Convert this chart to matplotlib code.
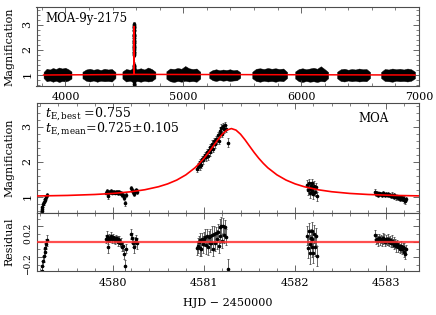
import numpy as np
import matplotlib.pyplot as plt
from matplotlib.ticker import MultipleLocator, FuncFormatter

plt.rcParams['font.family'] = ['DejaVu Serif']
plt.rcParams['mathtext.fontset'] = 'dejavuserif'
plt.rcParams['font.size'] = 8

# red model curve
model_t = [4579.16, 4579.5, 4579.8, 4580.0, 4580.2, 4580.35, 4580.5, 4580.6, 4580.7, 4580.8,
           4580.9, 4580.95, 4581.0, 4581.05, 4581.1, 4581.15, 4581.2, 4581.25, 4581.3, 4581.35,
           4581.4, 4581.45, 4581.5, 4581.55, 4581.6, 4581.65, 4581.7, 4581.8, 4581.9, 4582.0,
           4582.1, 4582.25, 4582.4, 4582.6, 4582.8, 4583.1, 4583.36]
model_A = [1.022, 1.038, 1.065, 1.095, 1.144, 1.201, 1.287, 1.368, 1.477, 1.626,
           1.828, 1.956, 2.102, 2.266, 2.445, 2.626, 2.789, 2.906, 2.949, 2.906,
           2.789, 2.626, 2.445, 2.266, 2.102, 1.956, 1.828, 1.626, 1.477, 1.368,
           1.287, 1.201, 1.144, 1.095, 1.065, 1.038, 1.025]

# MOA points near the event (HJD-2450000, magnification, error, residual)
obs_t = [4579.215, 4579.22, 4579.225, 4579.235, 4579.24, 4579.25, 4579.255, 4579.265, 4579.27,
         4579.92, 4579.93, 4579.94, 4579.95, 4579.96, 4579.97, 4579.98, 4579.99, 4580.00, 4580.01,
         4580.02, 4580.03, 4580.04, 4580.05, 4580.06, 4580.07, 4580.08, 4580.09, 4580.10, 4580.11,
         4580.12, 4580.13, 4580.14,
         4580.20, 4580.21, 4580.22, 4580.23, 4580.24, 4580.25, 4580.26,
         4580.92, 4580.93, 4580.94, 4580.95, 4580.96, 4580.97, 4580.98, 4580.99, 4581.00, 4581.01,
         4581.02, 4581.03, 4581.04, 4581.05, 4581.06, 4581.07, 4581.08, 4581.09, 4581.10, 4581.11,
         4581.12, 4581.13, 4581.14, 4581.15, 4581.16, 4581.17, 4581.18, 4581.19, 4581.20, 4581.21,
         4581.22, 4581.23, 4581.24, 4581.26,
         4582.13, 4582.14, 4582.15, 4582.16, 4582.165, 4582.17, 4582.18, 4582.185, 4582.19, 4582.20,
         4582.21, 4582.22, 4582.23, 4582.24,
         4582.88, 4582.89, 4582.90, 4582.91, 4582.92, 4582.93, 4582.94, 4582.95, 4582.96, 4582.97,
         4582.98, 4582.99, 4583.00, 4583.01, 4583.02, 4583.03, 4583.04, 4583.05, 4583.06, 4583.07,
         4583.08, 4583.09, 4583.10, 4583.11, 4583.12, 4583.13, 4583.14, 4583.15, 4583.16, 4583.17,
         4583.18, 4583.19, 4583.20, 4583.21, 4583.22]
obs_A = [0.58, 0.65, 0.72, 0.78, 0.85, 0.90, 0.95, 1.00, 1.05,
         1.12, 1.16, 1.10, 1.02, 1.14, 1.13, 1.17, 1.12, 1.15, 1.13,
         1.12, 1.15, 1.13, 1.14, 1.11, 1.13, 1.10, 1.11, 1.05, 1.06,
         0.96, 0.82, 1.04,
         1.24, 1.20, 1.14, 1.08, 1.16, 1.19, 1.15,
         1.80, 1.86, 1.93, 1.88, 2.00, 1.92, 2.08, 2.04, 2.14, 2.19,
         2.13, 2.27, 2.16, 2.33, 2.28, 2.42, 2.36, 2.50, 2.36, 2.58,
         2.50, 2.66, 2.62, 2.76, 2.60, 2.88, 2.80, 2.96, 2.80, 3.02,
         2.93, 3.05, 2.94, 2.55,
         1.35, 1.18, 1.40, 1.22, 1.10, 1.30, 1.17, 1.38, 1.26, 1.08,
         1.32, 1.15, 1.28, 1.02,
         1.15, 1.08, 1.10, 1.06, 1.10, 1.07, 1.09, 1.06, 1.10, 1.07,
         1.09, 1.05, 1.08, 1.06, 1.07, 1.04, 1.06, 1.03, 1.05, 1.02,
         1.04, 1.00, 1.02, 0.98, 1.01, 0.97, 0.99, 0.95, 0.98, 0.93,
         0.96, 0.90, 0.95, 0.87, 0.93]
obs_err = [0.07, 0.08, 0.06, 0.07, 0.08, 0.06, 0.07, 0.06, 0.07,
           0.05, 0.06, 0.05, 0.07, 0.05, 0.04, 0.05, 0.05, 0.04, 0.05,
           0.05, 0.04, 0.05, 0.05, 0.06, 0.05, 0.05, 0.06, 0.05, 0.06,
           0.06, 0.07, 0.06,
           0.07, 0.06, 0.06, 0.07, 0.06, 0.06, 0.07,
           0.09, 0.10, 0.08, 0.11, 0.09, 0.10, 0.08, 0.11, 0.09, 0.10,
           0.12, 0.09, 0.10, 0.08, 0.11, 0.09, 0.10, 0.12, 0.09, 0.11,
           0.10, 0.08, 0.12, 0.10, 0.09, 0.11, 0.10, 0.12, 0.09, 0.10,
           0.11, 0.09, 0.10, 0.14,
           0.12, 0.13, 0.11, 0.12, 0.14, 0.12, 0.13, 0.12, 0.11, 0.13,
           0.12, 0.12, 0.11, 0.13,
           0.06, 0.05, 0.06, 0.07, 0.05, 0.06, 0.05, 0.06, 0.07, 0.05,
           0.06, 0.05, 0.06, 0.05, 0.07, 0.06, 0.05, 0.06, 0.08, 0.05,
           0.06, 0.05, 0.06, 0.07, 0.05, 0.06, 0.05, 0.06, 0.07, 0.06,
           0.05, 0.07, 0.06, 0.07, 0.06]
obs_res = [-0.45, -0.38, -0.31, -0.25, -0.18, -0.13, -0.08, -0.03, 0.02,
           0.04, 0.08, 0.02, -0.07, 0.05, 0.04, 0.08, 0.03, 0.06, 0.03,
           0.02, 0.05, 0.03, 0.03, 0.00, 0.02, -0.01, -0.01, -0.07, -0.06,
           -0.16, -0.31, -0.09,
           0.10, 0.05, -0.01, -0.07, 0.00, 0.03, -0.02,
           -0.08, -0.05, 0.00, -0.08, 0.02, -0.09, 0.04, -0.03, 0.04, 0.06,
           -0.04, 0.07, -0.07, 0.06, -0.02, 0.08, -0.01, 0.09, -0.09, 0.10,
           -0.02, 0.11, 0.03, 0.13, -0.06, 0.19, 0.08, 0.20, 0.01, 0.21,
           0.09, 0.19, 0.06, -0.36,
           0.08, -0.08, 0.14, -0.03, -0.15, 0.05, -0.07, 0.14, 0.03, -0.15,
           0.10, -0.07, 0.07, -0.19,
           0.09, 0.02, 0.04, 0.01, 0.05, 0.02, 0.04, 0.01, 0.05, 0.02,
           0.04, 0.00, 0.03, 0.01, 0.03, 0.00, 0.02, -0.01, 0.01, -0.02,
           0.00, -0.04, -0.02, -0.06, -0.03, -0.07, -0.05, -0.09, -0.06, -0.10,
           -0.07, -0.13, -0.08, -0.16, -0.10]

# 9-year baseline: observing seasons drawn as scatter envelopes
season_start = [3814, 4144, 4483, 4856, 5220, 5585, 5949, 6305, 6678]
season_end = [4051, 4424, 4763, 5144, 5483, 5881, 6229, 6585, 6966]
season_hi = [[1.12, 1.25, 1.22, 1.28, 1.24, 1.30, 1.26, 1.29, 1.23, 1.14],
             [1.13, 1.22, 1.25, 1.21, 1.24, 1.20, 1.25, 1.22, 1.24, 1.12],
             [1.14, 1.24, 1.21, 1.26, 1.23, 1.27, 1.22, 1.30, 1.24, 1.13],
             [1.15, 1.26, 1.24, 1.28, 1.25, 1.36, 1.27, 1.24, 1.26, 1.13],
             [1.12, 1.20, 1.23, 1.19, 1.22, 1.20, 1.23, 1.19, 1.21, 1.11],
             [1.13, 1.25, 1.27, 1.24, 1.28, 1.25, 1.27, 1.24, 1.26, 1.12],
             [1.14, 1.24, 1.27, 1.23, 1.26, 1.29, 1.25, 1.35, 1.24, 1.12],
             [1.13, 1.23, 1.25, 1.21, 1.24, 1.22, 1.26, 1.23, 1.24, 1.12],
             [1.12, 1.24, 1.22, 1.26, 1.23, 1.25, 1.22, 1.26, 1.23, 1.13]]
season_lo = [[0.88, 0.75, 0.78, 0.73, 0.77, 0.72, 0.76, 0.74, 0.78, 0.86],
             [0.87, 0.77, 0.74, 0.78, 0.73, 0.77, 0.75, 0.76, 0.74, 0.88],
             [0.86, 0.74, 0.77, 0.72, 0.76, 0.73, 0.77, 0.74, 0.76, 0.87],
             [0.85, 0.75, 0.72, 0.76, 0.73, 0.77, 0.74, 0.76, 0.73, 0.86],
             [0.88, 0.79, 0.76, 0.80, 0.77, 0.79, 0.76, 0.78, 0.79, 0.89],
             [0.87, 0.76, 0.73, 0.77, 0.74, 0.76, 0.73, 0.77, 0.75, 0.88],
             [0.86, 0.75, 0.72, 0.76, 0.73, 0.75, 0.72, 0.76, 0.74, 0.87],
             [0.87, 0.76, 0.74, 0.78, 0.75, 0.77, 0.74, 0.76, 0.75, 0.88],
             [0.88, 0.76, 0.75, 0.73, 0.77, 0.75, 0.76, 0.74, 0.77, 0.87]]

RED = '#ff0000'
FRAME = '0.3'


def style(ax):
    ax.tick_params(which='both', direction='in', top=True, right=True, color=FRAME,
                   labelsize=8, pad=3)
    ax.tick_params(which='major', length=4, width=0.6)
    ax.tick_params(which='minor', length=2, width=0.5)
    ax.tick_params(axis='y', labelrotation=90)
    for s in ax.spines.values():
        s.set_color(FRAME)
        s.set_linewidth(0.8)


def points(ax, y):
    ax.errorbar(obs_t, y, yerr=obs_err, fmt='o', ms=1.6, color='k', ecolor='0.3',
                elinewidth=0.6, capsize=1.0, capthick=0.6, zorder=2)


fig = plt.figure(figsize=(4.36, 3.15), dpi=100)
left, width = 36.5 / 436, 382.5 / 436
ax_top = fig.add_axes([left, 229 / 315, width, 78.7 / 315])
ax_mid = fig.add_axes([left, 102.5 / 315, width, 109.5 / 315])
ax_res = fig.add_axes([left, 44 / 315, width, 58.5 / 315])

# --- full light curve
for a, b, hi, lo in zip(season_start, season_end, season_hi, season_lo):
    xs = np.linspace(a, b, len(hi))
    ax_top.fill_between(xs, lo, hi, color='k', lw=0.3, edgecolor='k')
points(ax_top, obs_A)
ax_top.plot([season_start[0]] + model_t + [season_end[-1]],
            [1.0] + model_A + [1.0], color=RED, lw=1.1, zorder=3)
ax_top.set_xlim(3754, 7000)
ax_top.set_ylim(0.56, 3.71)
ax_top.xaxis.set_major_locator(MultipleLocator(1000))
ax_top.xaxis.set_minor_locator(MultipleLocator(200))
ax_top.yaxis.set_major_locator(MultipleLocator(1))
ax_top.yaxis.set_minor_locator(MultipleLocator(0.2))
style(ax_top)
ax_top.tick_params(axis='x', pad=4)
ax_top.set_ylabel('Magnification')
ax_top.yaxis.set_label_coords(-0.058, 0.5)
ax_top.text(0.024, 0.86, 'MOA-9y-2175', transform=ax_top.transAxes, va='center',
            fontsize=8.5)

# --- zoom on the event
points(ax_mid, obs_A)
ax_mid.plot(model_t, model_A, color=RED, lw=1.2, zorder=3)
ax_mid.set_xlim(4579.16, 4583.36)
ax_mid.set_ylim(0.55, 3.68)
ax_mid.xaxis.set_major_locator(MultipleLocator(1))
ax_mid.xaxis.set_minor_locator(MultipleLocator(0.2))
ax_mid.yaxis.set_major_locator(MultipleLocator(1))
ax_mid.yaxis.set_minor_locator(MultipleLocator(0.2))
style(ax_mid)
ax_mid.tick_params(labelbottom=False)
ax_mid.set_ylabel('Magnification')
ax_mid.yaxis.set_label_coords(-0.058, 0.5)
ax_mid.text(0.022, 0.905, r'$t_{\rm E,best}$ =0.755', transform=ax_mid.transAxes,
            va='center', fontsize=9)
ax_mid.text(0.022, 0.765, r'$t_{\rm E,mean}$=0.725$\pm$0.105', transform=ax_mid.transAxes,
            va='center', fontsize=9)
ax_mid.text(0.881, 0.855, 'MOA', transform=ax_mid.transAxes, ha='center', va='center',
            fontsize=8.5)

# --- residuals
points(ax_res, obs_res)
ax_res.axhline(0, color='#ff3030', lw=1.6, alpha=0.85, zorder=3)
ax_res.set_xlim(4579.16, 4583.36)
ax_res.set_ylim(-0.38, 0.38)
ax_res.xaxis.set_major_locator(MultipleLocator(1))
ax_res.xaxis.set_minor_locator(MultipleLocator(0.2))
ax_res.xaxis.set_major_formatter(FuncFormatter(lambda v, p: f'{v:.0f}'))
ax_res.yaxis.set_major_locator(MultipleLocator(0.2))
ax_res.yaxis.set_minor_locator(MultipleLocator(0.1))
ax_res.yaxis.set_major_formatter(FuncFormatter(lambda v, p: f'{round(v, 2):g}'.replace('-', '\u2212')))
style(ax_res)
ax_res.tick_params(axis='x', pad=5)
ax_res.tick_params(axis='y', labelsize=6.5)
ax_res.set_ylabel('Residual')
ax_res.yaxis.set_label_coords(-0.058, 0.5)
ax_res.set_xlabel('HJD \u2212 2450000')
ax_res.xaxis.set_label_coords(0.5, -0.46)

fig.savefig('out.png', dpi=100)
